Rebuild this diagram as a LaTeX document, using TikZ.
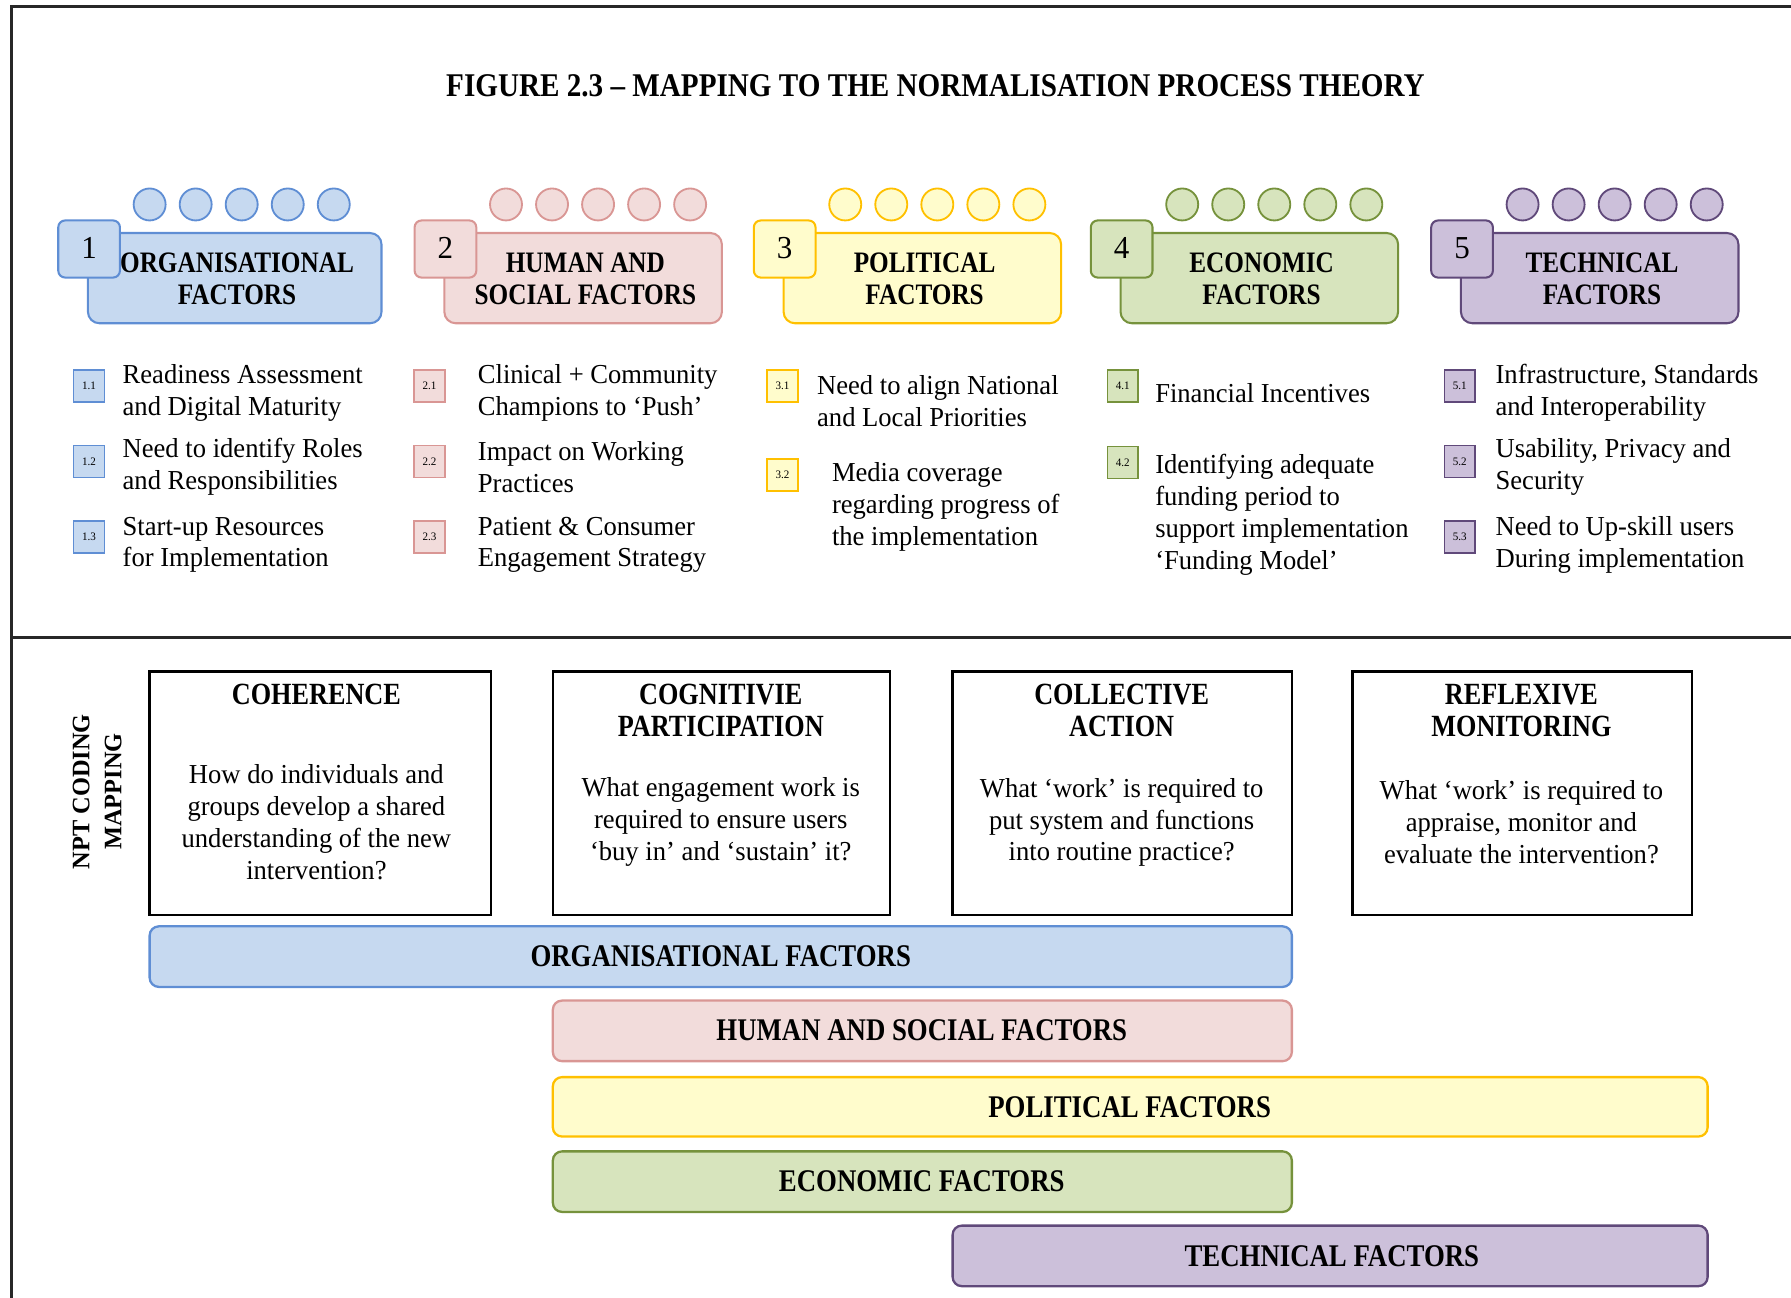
\documentclass[tikz,border=0pt]{standalone}
\usepackage{fontspec}
\setmainfont{Liberation Serif}[FakeStretch=0.97]
\newfontfamily\cond[FakeStretch=0.85]{Liberation Serif}
\newfontfamily\tcond[FakeStretch=0.88]{Liberation Serif}
\usetikzlibrary{fit}
\definecolor{Af}{RGB}{198,217,240}\definecolor{Ad}{RGB}{95,142,212}
\definecolor{Bf}{RGB}{242,220,219}\definecolor{Bd}{RGB}{217,150,148}
\definecolor{Cf}{RGB}{255,252,204}\definecolor{Cd}{RGB}{255,192,0}
\definecolor{Df}{RGB}{215,228,189}\definecolor{Dd}{RGB}{118,146,60}
\definecolor{Ef}{RGB}{204,192,218}\definecolor{Ed}{RGB}{96,73,122}
\definecolor{frame}{RGB}{40,40,40}
\tikzset{
  col/.style={fill=#1f, draw=#1d},
  hdr/.style={font=\cond\bfseries\fontsize{13}{14}\selectfont, align=center},
  bigbox/.style={col=#1, line width=0.9pt, rounded corners=5pt, inner sep=0pt},
  numbox/.style={col=#1, line width=0.9pt, rounded corners=3pt, inner sep=0pt},
  circ/.style={col=#1, circle, line width=0.8pt, minimum size=14pt, inner sep=0pt},
  sq/.style={col=#1, line width=0.7pt, minimum width=13.5pt, minimum height=14pt, inner sep=0pt, font=\fontsize{5}{5}\selectfont},
  body/.style={font=\fontsize{12}{14}\selectfont, align=left, anchor=west, inner sep=0pt},
  nptbox/.style={draw=black, line width=1pt, inner sep=0pt},
  ttl/.style={font=\cond\bfseries\fontsize{13.5}{14}\selectfont, align=center},
  qtext/.style={font=\fontsize{12}{14}\selectfont, align=center},
  bar/.style={col=#1, line width=1pt, rounded corners=4pt, inner sep=0pt},
  bartext/.style={font=\cond\bfseries\fontsize{13.8}{15}\selectfont}
}
\begin{document}
\begin{tikzpicture}[x=0.5pt,y=-0.5pt]
\useasboundingbox (0,0) rectangle (1568,1136);
% frame
\coordinate (ftr) at (1568,6);
\coordinate (ftl) at (10,6);
\coordinate (fbl) at (10,1136);
\coordinate (dl) at (10,558);
\coordinate (dr) at (1568,558);
\draw[frame, line width=1.3pt] (ftr) -- (ftl) -- (fbl);
\draw[frame, line width=1.1pt] (dl) -- (dr);
% title
\node[font=\tcond\bfseries\fontsize{14.5}{16}\selectfont] (title) at (819,75) {FIGURE 2.3 – MAPPING TO THE NORMALISATION PROCESS THEORY};
% factor headers
\foreach \n/\l/\r/\c/\t in {1/77/334/A/{ORGANISATIONAL\\FACTORS},2/389/632/B/{HUMAN AND\\SOCIAL FACTORS},3/686/929/C/{POLITICAL\\FACTORS},4/981/1224/D/{ECONOMIC\\FACTORS},5/1279/1522/E/{TECHNICAL\\FACTORS}}{
  \node[bigbox=\c, fit={(\l,204) (\r,283)}] (big\n) {};
  \node[hdr] (hdr\n) at ({(\l+\r)/2+2},244) {\t};
  \node[numbox=\c, fit={({\l-26},193) ({\l+28},243)}] (num\n) {};
  \node[font=\fontsize{14}{16}\selectfont] (numt\n) at ({\l+1},217) {\n};
  \foreach \k in {0,...,4}{
    \node[circ=\c] (c\n-\k) at ({\l+54+40.3*\k},179) {};
  }
}
% items column 1
\node[sq=A] (s11) at (78,338) {1.1};
\node[body] (t11) at (107,344) {Readiness Assessment\\and Digital Maturity};
\node[sq=A] (s12) at (78,404) {1.2};
\node[body] (t12) at (107,409) {Need to identify Roles\\and Responsibilities};
\node[sq=A] (s13) at (78,470) {1.3};
\node[body] (t13) at (107,477) {Start-up Resources\\for Implementation};
% column 2
\node[sq=B] (s21) at (376,338) {2.1};
\node[body] (t21) at (418,344) {Clinical + Community\\Champions to ‘Push’};
\node[sq=B] (s22) at (376,404) {2.2};
\node[body] (t22) at (418,409) {Impact on Working\\Practices};
\node[sq=B] (s23) at (376,470) {2.3};
\node[body] (t23) at (418,477) {Patient \& Consumer\\Engagement Strategy};
% column 3
\node[sq=C] (s31) at (685,338) {3.1};
\node[body] (t31) at (715,351) {Need to align National\\and Local Priorities};
\node[sq=C] (s32) at (685,416) {3.2};
\node[body] (t32) at (728,444) {Media coverage\\regarding progress of\\the implementation};
% column 4
\node[sq=D] (s41) at (983,338) {4.1};
\node[body] (t41) at (1011,344) {Financial Incentives};
\node[sq=D] (s42) at (983,405) {4.2};
\node[body] (t42) at (1011,451) {Identifying adequate\\funding period to\\support implementation\\‘Funding Model’};
% column 5
\node[sq=E] (s51) at (1278,338) {5.1};
\node[body] (t51) at (1309,344) {Infrastructure, Standards\\and Interoperability};
\node[sq=E] (s52) at (1278,404) {5.2};
\node[body] (t52) at (1309,409) {Usability, Privacy and\\Security};
\node[sq=E] (s53) at (1278,470) {5.3};
\node[body] (t53) at (1309,477) {Need to Up-skill users\\During implementation};
% NPT coding mapping
\node[rotate=90, font=\bfseries\fontsize{11}{14}\selectfont, align=center] (npt) at (85,693) {NPT CODING\\MAPPING};
% NPT boxes
\node[nptbox, fit={(131,588) (430,801)}] (coh) {};
\node[ttl] (coht) at (277,608) {COHERENCE};
\node[qtext] (cohq) at (277,720) {How do individuals and\\groups develop a shared\\understanding of the new\\intervention?};
\node[nptbox, fit={(484,588) (779,801)}] (cog) {};
\node[ttl] (cogt) at (631,622) {COGNITIVIE\\PARTICIPATION};
\node[qtext] (cogq) at (631,720) {What engagement work is\\required to ensure users\\‘buy in’ and ‘sustain’ it?};
\node[nptbox, fit={(834,588) (1131,801)}] (col) {};
\node[ttl] (colt) at (982,622) {COLLECTIVE\\ACTION};
\node[qtext] (colq) at (982,720) {What ‘work’ is required to\\put system and functions\\into routine practice?};
\node[nptbox, fit={(1184,588) (1481,801)}] (ref) {};
\node[ttl] (reft) at (1332,622) {REFLEXIVE\\MONITORING};
\node[qtext] (refq) at (1332,720) {What ‘work’ is required to\\appraise, monitor and\\evaluate the intervention?};
% bars
\node[bar=A, fit={(131,811) (1131,864)}] (barA) {};
\node[bartext] (barAt) at (631,837) {ORGANISATIONAL FACTORS};
\node[bar=B, fit={(484,876) (1131,929)}] (barB) {};
\node[bartext] (barBt) at (807,902) {HUMAN AND SOCIAL FACTORS};
\node[bar=C, fit={(484,943) (1495,995)}] (barC) {};
\node[bartext] (barCt) at (989,969) {POLITICAL FACTORS};
\node[bar=D, fit={(484,1008) (1131,1061)}] (barD) {};
\node[bartext] (barDt) at (807,1034) {ECONOMIC FACTORS};
\node[bar=E, fit={(834,1073) (1495,1126)}] (barE) {};
\node[bartext] (barEt) at (1166,1100) {TECHNICAL FACTORS};
\end{tikzpicture}
\end{document}
